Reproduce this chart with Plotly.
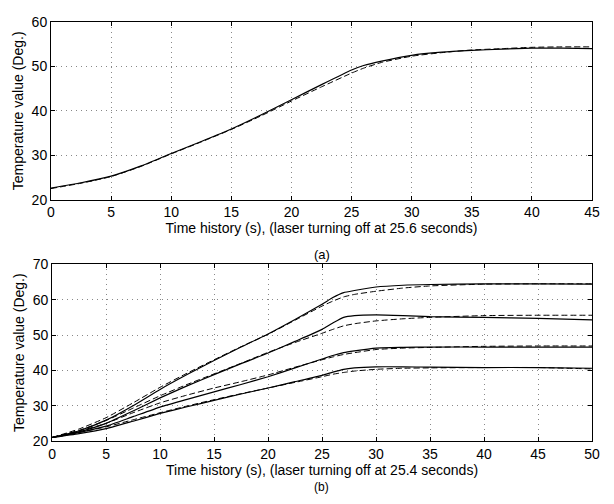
import plotly.graph_objects as go
from plotly.subplots import make_subplots

# (a) single experiment, laser off at 25.6 s
time_a = [0, 2.5, 5, 7.5, 10, 12.5, 15, 17.5, 20, 22.5, 25, 26, 27.5, 30, 32.5, 35, 37.5, 40, 42.5, 45]
meas_a = [22.6, 23.8, 25.3, 27.6, 30.4, 33.1, 35.9, 39.1, 42.5, 45.9, 49.2, 50.2, 51.2, 52.5, 53.2, 53.6, 53.9, 54.1, 54.1, 54.0]
model_a = [22.5, 23.7, 25.2, 27.5, 30.3, 33.0, 35.8, 38.9, 42.2, 45.4, 48.5, 49.6, 50.9, 52.3, 53.1, 53.7, 54.0, 54.3, 54.4, 54.4]

# (b) four experiments, laser off at 25.4 s
time_b = [0, 2.5, 5, 7.5, 10, 12.5, 15, 17.5, 20, 22.5, 25, 26, 27, 28, 30, 32.5, 35, 40, 45, 50]
meas_b = [
    [21, 22.9, 25.9, 30.0, 34.6, 38.8, 42.8, 46.6, 50.3, 54.4, 58.7, 60.6, 62.0, 62.6, 63.6, 64.1, 64.3, 64.5, 64.5, 64.4],
    [21, 22.6, 25.0, 28.5, 32.2, 35.6, 38.8, 41.9, 44.9, 48.2, 51.6, 53.4, 55.0, 55.5, 55.7, 55.5, 55.2, 55.0, 54.7, 54.3],
    [21, 22.4, 24.2, 26.9, 29.6, 31.8, 33.9, 36.0, 38.2, 40.7, 43.2, 44.2, 45.0, 45.5, 46.3, 46.5, 46.6, 46.6, 46.6, 46.6],
    [21, 22.1, 23.5, 25.6, 27.8, 29.7, 31.5, 33.3, 35.0, 36.8, 38.6, 39.5, 40.3, 40.7, 41.0, 41.0, 40.9, 40.8, 40.8, 40.6],
]
model_b = [
    [21, 23.4, 26.6, 30.8, 35.2, 39.2, 43.0, 46.7, 50.2, 54.2, 58.2, 59.6, 60.8, 61.5, 62.4, 63.3, 63.9, 64.4, 64.5, 64.5],
    [21, 23.0, 25.8, 29.3, 32.8, 36.0, 39.0, 42.0, 45.1, 47.9, 50.5, 51.6, 52.6, 53.2, 54.0, 54.6, 55.0, 55.5, 55.6, 55.6],
    [21, 22.8, 25.0, 28.0, 30.8, 33.0, 35.0, 36.8, 38.7, 40.9, 43.0, 43.8, 44.5, 45.0, 45.9, 46.3, 46.5, 46.8, 46.9, 46.9],
    [21, 22.4, 24.0, 26.0, 28.0, 29.9, 31.7, 33.4, 35.0, 36.6, 38.2, 38.9, 39.4, 39.8, 40.3, 40.6, 40.7, 40.8, 40.8, 40.4],
]

FONT = "Liberation Sans, Arial, sans-serif"
solid = dict(color="black", width=1.2, shape="spline", smoothing=0.5)
dashed = dict(color="black", width=1, dash="6px,3px", shape="spline", smoothing=0.5)

fig = make_subplots(rows=2, cols=1)

fig.add_trace(go.Scatter(x=time_a, y=model_a, mode="lines", line=dashed), row=1, col=1)
fig.add_trace(go.Scatter(x=time_a, y=meas_a, mode="lines", line=solid), row=1, col=1)

for m, s in zip(model_b, meas_b):
    fig.add_trace(go.Scatter(x=time_b, y=m, mode="lines", line=dashed), row=2, col=1)
    fig.add_trace(go.Scatter(x=time_b, y=s, mode="lines", line=solid), row=2, col=1)

axis_style = dict(
    showline=True, linecolor="black", linewidth=1, mirror="ticks",
    ticks="inside", ticklen=4, tickcolor="black",
    showgrid=True, gridcolor="#888", griddash="1px,4px", gridwidth=1,
    zeroline=False, tickfont=dict(size=14, color="black"),
)
title_font = dict(size=14, color="black")

fig.update_xaxes(**axis_style)
fig.update_yaxes(**axis_style)

fig.update_xaxes(range=[0, 45], dtick=5, domain=[0, 1], row=1, col=1,
                 title=dict(text="Time history (s), (laser turning off at 25.6 seconds)",
                            font=title_font, standoff=2))
fig.update_yaxes(range=[20, 60], dtick=10, domain=[0.576, 1.0], row=1, col=1,
                 title=dict(text="Temperature value (Deg.)", font=title_font, standoff=4))
fig.update_xaxes(range=[0, 50], dtick=5, domain=[0.002, 1], row=2, col=1,
                 title=dict(text="Time history (s), (laser turning off at 25.4 seconds)",
                            font=title_font, standoff=2))
fig.update_yaxes(range=[20, 70], dtick=10, domain=[0, 0.4215], row=2, col=1,
                 title=dict(text="Temperature value (Deg.)", font=title_font, standoff=4))

fig.add_annotation(text="(a)", x=0.5, y=0.445, xref="paper", yref="paper",
                   showarrow=False, font=dict(size=13, color="black"), yanchor="middle")
fig.add_annotation(text="(b)", x=0.5, y=-0.088, xref="paper", yref="paper",
                   showarrow=False, font=dict(size=12, color="black"), yanchor="top")

# page body keeps an 8px margin, so the figure is sized to fit the window
fig.update_layout(
    width=598, height=488,
    margin=dict(l=43, r=9, t=6, b=55),
    showlegend=False,
    plot_bgcolor="white", paper_bgcolor="white",
    font=dict(family=FONT, color="black"),
)

fig.write_html("out.html")
